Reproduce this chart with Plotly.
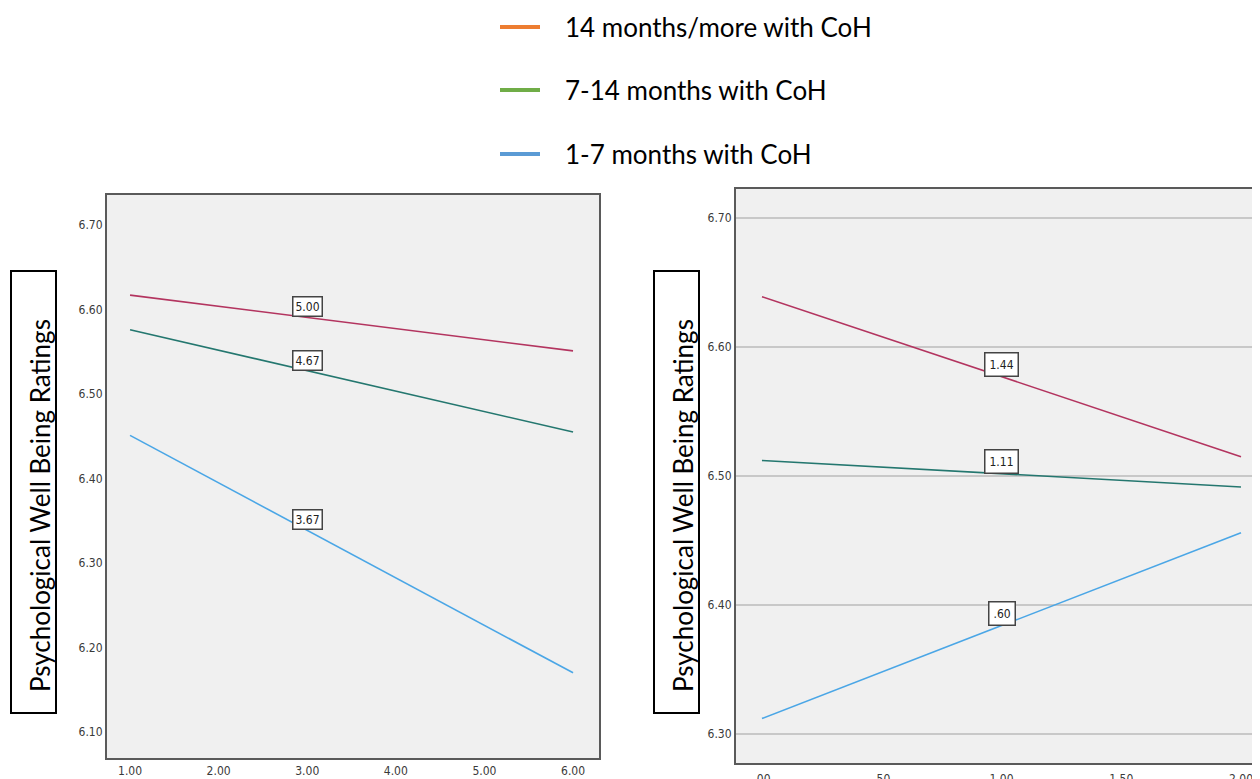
import numpy as np
import plotly.graph_objects as go

# The page body has an 8px margin, so the figure starts at (8, 8) on the page
OFF = 8
W, H = 1260 - OFF, 779 - OFF

# ---------------- data ----------------
# Left panel (x: 1.00 .. 6.00), moderator values labelled on the lines
left_x = [1.0, 6.0]
left_series = {
    "5.00": [6.617, 6.551],
    "4.67": [6.576, 6.455],
    "3.67": [6.451, 6.170],
}
left_label_x = 3.0
left_xtickvals = [1, 2, 3, 4, 5, 6]
left_xticktext = ["1.00", "2.00", "3.00", "4.00", "5.00", "6.00"]
left_ytickvals = [6.1, 6.2, 6.3, 6.4, 6.5, 6.6, 6.7]
left_yticktext = ["6.10", "6.20", "6.30", "6.40", "6.50", "6.60", "6.70"]

# Right panel (x: .00 .. 2.00)
right_x = [0.0, 2.0]
right_series = {
    "1.44": [6.639, 6.515],
    "1.11": [6.512, 6.4915],
    ".60": [6.312, 6.456],
}
right_label_x = 1.0
right_xtickvals = [0, 0.5, 1, 1.5, 2]
right_xticktext = [".00", ".50", "1.00", "1.50", "2.00"]
right_ytickvals = [6.3, 6.4, 6.5, 6.6, 6.7]
right_yticktext = ["6.30", "6.40", "6.50", "6.60", "6.70"]

line_colors = ["#B3345F", "#24776F", "#4AA6E6"]

legend_names = ["14 months/more with CoH", "7-14 months with CoH", "1-7 months with CoH"]
legend_colors = ["#ED7D31", "#70AD47", "#5B9BD5"]

y_title = "Psychological Well Being Ratings"

# ---------------- helpers (page pixel -> paper) ----------------
def px(x):
    return min(max((x - OFF) / W, 0.0), 1.0)


def py(y):
    return min(max(1 - (y - OFF) / H, 0.0), 1.0)


NARROW = "Liberation Sans Narrow, Arial Narrow, DejaVu Sans Condensed, sans-serif"
TITLE_FONT = "Lato, Open Sans, sans-serif"

fig = go.Figure()

# ---------------- traces ----------------
for (name, vals), col in zip(left_series.items(), line_colors):
    fig.add_trace(go.Scatter(x=left_x, y=vals, mode="lines", name=name,
                             line=dict(color=col, width=1.6),
                             xaxis="x", yaxis="y", showlegend=False, hoverinfo="skip"))
for (name, vals), col in zip(right_series.items(), line_colors):
    fig.add_trace(go.Scatter(x=right_x, y=vals, mode="lines", name=name,
                             line=dict(color=col, width=1.6),
                             xaxis="x2", yaxis="y2", showlegend=False, hoverinfo="skip"))

annotations = []
# value boxes on lines
for name, vals in left_series.items():
    yv = float(np.interp(left_label_x, left_x, vals))
    annotations.append(dict(x=left_label_x, y=yv, xref="x", yref="y", text=name,
                            showarrow=False, yanchor="bottom", xanchor="center",
                            font=dict(family=NARROW, size=12, color="#222"),
                            bgcolor="white", bordercolor="#444", borderwidth=1.5, borderpad=2))
for name, vals in right_series.items():
    yv = float(np.interp(right_label_x, right_x, vals))
    annotations.append(dict(x=right_label_x, y=yv, xref="x2", yref="y2", text=name,
                            showarrow=False, yanchor="bottom", xanchor="center",
                            font=dict(family=NARROW, size=12, color="#222"),
                            bgcolor="white", bordercolor="#444", borderwidth=1.5, borderpad=4))

# y titles
for cx in (40, 683):
    annotations.append(dict(x=px(cx), y=py(506), xref="paper", yref="paper", text=y_title,
                            textangle=-90, showarrow=False, xanchor="center", yanchor="middle",
                            font=dict(family=TITLE_FONT, size=26, color="black")))

# legend
legend_y = [27, 90, 154]
shapes = []
for name, col, ly in zip(legend_names, legend_colors, legend_y):
    shapes.append(dict(type="line", xref="paper", yref="paper",
                       x0=px(500), x1=px(540), y0=py(ly), y1=py(ly),
                       line=dict(color=col, width=4)))
    annotations.append(dict(x=px(563), y=py(ly), xref="paper", yref="paper", text=name,
                            showarrow=False, xanchor="left", yanchor="middle",
                            font=dict(family=TITLE_FONT, size=26, color="black")))

# title boxes
for x0, x1 in ((11, 56), (654, 699)):
    shapes.append(dict(type="rect", xref="paper", yref="paper",
                       x0=px(x0), x1=px(x1), y0=py(713), y1=py(271),
                       line=dict(color="black", width=2), fillcolor="rgba(0,0,0,0)"))

# plot areas in page pixels
L_X0, L_X1, L_Y0, L_Y1 = 107, 599, 195, 758
R_X0, R_X1, R_Y0, R_Y1 = 736, 1260, 189, 763

for x0, x1, y0, y1 in ((L_X0, L_X1, L_Y0, L_Y1), (R_X0, R_X1, R_Y0, R_Y1)):
    shapes.append(dict(type="rect", xref="paper", yref="paper", layer="below",
                       x0=px(x0), x1=px(x1), y0=py(y1), y1=py(y0),
                       line=dict(width=0), fillcolor="#F0F0F0"))

# right x range: .00 at page 762, 2.00 at page 1241
r_scale = (1241 - 762) / 2.0
r_range = [(R_X0 - 762) / r_scale, (R_X1 - 762) / r_scale]

axis_common = dict(zeroline=False, ticks="", showline=True, automargin=False,
                   linecolor="#5A5A5A", linewidth=2,
                   tickfont=dict(family=NARROW, size=12, color="#3A3A3A"))

fig.update_layout(
    width=W, height=H,
    margin=dict(l=0, r=0, t=0, b=0, autoexpand=False),
    paper_bgcolor="white",
    plot_bgcolor="rgba(0,0,0,0)",
    showlegend=False,
    xaxis=dict(domain=[px(L_X0), px(L_X1)], range=[0.74, 6.293], anchor="y",
               tickvals=left_xtickvals, ticktext=left_xticktext, mirror=True,
               showgrid=False, ticklabelstandoff=1, **axis_common),
    yaxis=dict(domain=[py(L_Y1), py(L_Y0)], range=[6.0692, 6.7355], anchor="x",
               tickvals=left_ytickvals, ticktext=left_yticktext, mirror=True,
               showgrid=False, **axis_common),
    xaxis2=dict(domain=[px(R_X0), px(R_X1)], range=r_range, anchor="y2",
                tickvals=right_xtickvals, ticktext=right_xticktext, mirror=True,
                showgrid=False, ticklabelstandoff=4, **axis_common),
    yaxis2=dict(domain=[py(R_Y1), py(R_Y0)], range=[6.2775, 6.7225], anchor="x2",
                tickvals=right_ytickvals, ticktext=right_yticktext, mirror=False,
                showgrid=True, gridcolor="#C8C8C8", gridwidth=2, **axis_common),
    annotations=annotations,
    shapes=shapes,
)

fig.write_html("out.html")
